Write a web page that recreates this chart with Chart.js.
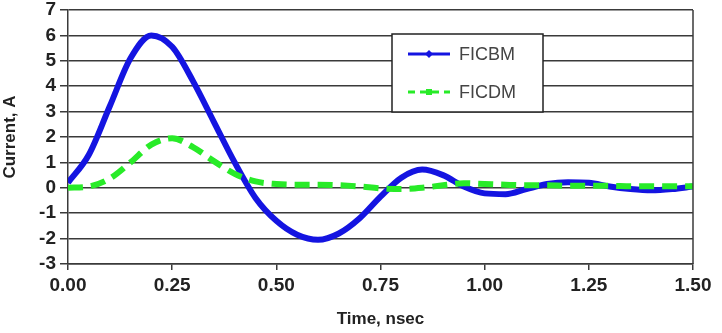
<!DOCTYPE html>
<html>
<head>
<meta charset="utf-8">
<script src="https://cdn.jsdelivr.net/npm/chart.js@4.4.1/dist/chart.umd.min.js"></script>
<style>
  html, body { margin: 0; padding: 0; background: #fff; }
  #wrap { width: 722px; height: 333px; }
</style>
</head>
<body>
<div id="wrap"><canvas id="chart"></canvas></div>
<script>
const timeNs = [0.00, 0.05, 0.10, 0.15, 0.20, 0.25, 0.30, 0.35, 0.40, 0.45,
                0.50, 0.55, 0.60, 0.65, 0.70, 0.75, 0.80, 0.85, 0.90, 0.95,
                1.00, 1.05, 1.10, 1.15, 1.20, 1.25, 1.30, 1.35, 1.40, 1.45, 1.50];
const ficbm = [0.2, 1.3, 3.2, 5.1, 6.0, 5.55, 4.2, 2.6, 1.0, -0.4,
               -1.3, -1.85, -2.05, -1.8, -1.2, -0.35, 0.4, 0.72, 0.5, 0.05,
               -0.22, -0.25, -0.05, 0.15, 0.22, 0.2, 0.05, -0.05, -0.1, -0.05, 0.05];
const ficdm = [0.0, 0.05, 0.36, 1.0, 1.7, 1.95, 1.6, 1.05, 0.55, 0.25,
               0.15, 0.12, 0.12, 0.1, 0.05, -0.02, -0.05, 0.0, 0.1, 0.18,
               0.15, 0.12, 0.1, 0.1, 0.08, 0.08, 0.08, 0.06, 0.06, 0.06, 0.06];
const seriesNames = ['FICBM', 'FICDM'];

const blue = 'rgb(20,20,225)';
const green = 'rgb(40,235,40)';
const gridColor = '#3a3a3a';

// legend box inside the plot plus right frame line
const boxLegend = {
  id: 'boxLegend',
  afterDraw(chart) {
    const ctx = chart.ctx;
    const a = chart.chartArea;
    ctx.save();
    // right frame
    ctx.strokeStyle = gridColor;
    ctx.lineWidth = 1.5;
    ctx.beginPath();
    ctx.moveTo(a.right, a.top);
    ctx.lineTo(a.right, a.bottom);
    ctx.stroke();

    const x = 392, y = 34, w = 151, h = 78;
    ctx.fillStyle = '#fff';
    ctx.fillRect(x, y, w, h);
    ctx.strokeStyle = '#222';
    ctx.lineWidth = 1.5;
    ctx.strokeRect(x, y, w, h);

    chart.data.datasets.forEach((ds, i) => {
      const ly = y + 20 + i * 38;
      ctx.strokeStyle = ds.borderColor;
      ctx.lineWidth = 3;
      ctx.setLineDash(i === 1 ? [7, 5] : []);
      ctx.beginPath();
      ctx.moveTo(x + 16, ly);
      ctx.lineTo(x + 58, ly);
      ctx.stroke();
      ctx.setLineDash([]);
      ctx.fillStyle = ds.borderColor;
      ctx.beginPath();
      if (i === 0) {
        ctx.moveTo(x + 37, ly - 4);
        ctx.lineTo(x + 41, ly);
        ctx.lineTo(x + 37, ly + 4);
        ctx.lineTo(x + 33, ly);
      } else {
        ctx.rect(x + 34, ly - 3, 6, 6);
      }
      ctx.closePath();
      ctx.fill();
      ctx.fillStyle = '#444';
      ctx.font = '18px "Liberation Sans", Arial, sans-serif';
      ctx.textBaseline = 'middle';
      ctx.fillText(ds.label, x + 67, ly + 1);
    });
    ctx.restore();
  }
};

new Chart(document.getElementById('chart'), {
  type: 'line',
  data: {
    datasets: [
      {
        label: seriesNames[0],
        data: timeNs.map((t, i) => ({ x: t, y: ficbm[i] })),
        borderColor: blue,
        backgroundColor: blue,
        borderWidth: 6,
        pointRadius: 0,
        cubicInterpolationMode: 'monotone',
        order: 1
      },
      {
        label: seriesNames[1],
        data: timeNs.map((t, i) => ({ x: t, y: ficdm[i] })),
        borderColor: green,
        backgroundColor: green,
        borderWidth: 6,
        borderDash: [15, 8],
        pointRadius: 0,
        cubicInterpolationMode: 'monotone',
        order: 0
      }
    ]
  },
  options: {
    responsive: true,
    maintainAspectRatio: false,
    animation: false,
    layout: { padding: { left: 0, right: 29, top: 0, bottom: 3 } },
    plugins: {
      legend: { display: false },
      tooltip: { enabled: false }
    },
    scales: {
      x: {
        type: 'linear',
        min: 0,
        max: 1.5,
        afterFit: s => { s.height = 66; },
        ticks: {
          stepSize: 0.25,
          autoSkip: false,
          callback: v => v.toFixed(2),
          color: '#222',
          font: { family: '"Liberation Sans", Arial, sans-serif', size: 19, weight: 'bold' },
          padding: 4,
          maxRotation: 0
        },
        grid: { drawOnChartArea: false, drawTicks: true, tickLength: 6, color: gridColor, lineWidth: 1.5 },
        border: { display: true, color: gridColor, width: 1.5 },
        title: {
          display: true,
          text: 'Time, nsec',
          color: '#222',
          font: { family: '"Liberation Sans", Arial, sans-serif', size: 17, weight: 'bold' },
          padding: { top: 8, bottom: 0 }
        }
      },
      y: {
        min: -3,
        max: 7,
        afterFit: s => { s.width = 68; s.paddingTop = 10; s.paddingBottom = 0; },
        ticks: {
          stepSize: 1,
          autoSkip: false,
          color: '#222',
          font: { family: '"Liberation Sans", Arial, sans-serif', size: 19, weight: 'bold' },
          padding: 4
        },
        grid: { color: gridColor, lineWidth: 1.5, tickLength: 8 },
        border: { display: true, color: gridColor, width: 1.5 },
        title: {
          display: true,
          text: 'Current, A',
          color: '#222',
          font: { family: '"Liberation Sans", Arial, sans-serif', size: 17, weight: 'bold' },
          padding: { top: 0, bottom: 4 }
        }
      }
    }
  },
  plugins: [boxLegend]
});
</script>
</body>
</html>
